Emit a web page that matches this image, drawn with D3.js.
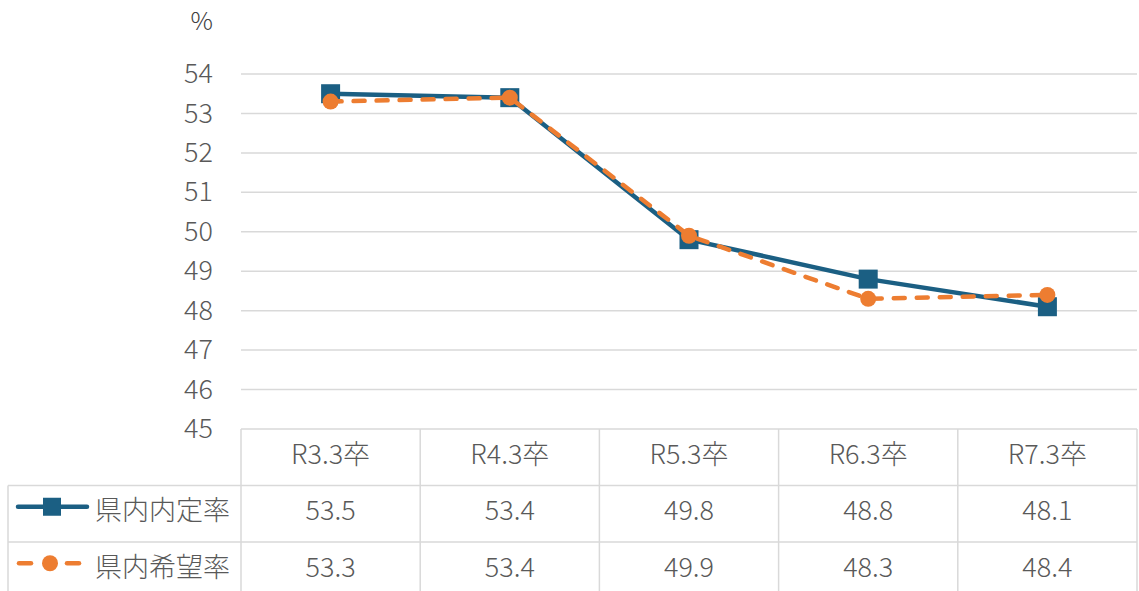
<!DOCTYPE html>
<html>
<head>
<meta charset="utf-8">
<script src="https://cdn.jsdelivr.net/npm/d3@7"></script>
<style>
  html, body { margin: 0; padding: 0; background: #fff; }
  svg { display: block; }
  text { font-family: "Noto Sans CJK JP", "Noto Sans", sans-serif; font-weight: 300; }
</style>
</head>
<body>
<svg id="chart" width="1139" height="591"></svg>
<script>
// Graduates by year (R = Reiwa), settlement and preference rates
const categories = ["R3.3卒", "R4.3卒", "R5.3卒", "R6.3卒", "R7.3卒"];
const settledRate = [53.5, 53.4, 49.8, 48.8, 48.1];   // 県内内定率
const desiredRate = [53.3, 53.4, 49.9, 48.3, 48.4];   // 県内希望率
const seriesNames = ["県内内定率", "県内希望率"];
const yTicks = [45, 46, 47, 48, 49, 50, 51, 52, 53, 54];

const svg = d3.select("#chart");
const W = 1139, H = 591;
const plotLeft = 241, plotRight = 1137, plotTop = 74, plotBottom = 429;
const rowH = 56.5;
const legendLeft = 8;
const fs = 27;
const textShift = -5;   // optical centring of text within table cells

const blue = "#1b5f83", orange = "#ed7d31", grid = "#d9d9d9", textCol = "#595959";

const x = d3.scaleBand().domain(categories).range([plotLeft, plotRight]);
const y = d3.scaleLinear().domain([45, 54]).range([plotBottom, plotTop]);

// Horizontal gridlines
svg.append("g").selectAll("line").data(yTicks.filter(t => t > 45)).join("line")
  .attr("x1", plotLeft).attr("x2", plotRight)
  .attr("y1", d => y(d)).attr("y2", d => y(d))
  .attr("stroke", grid).attr("stroke-width", 1.5);

// Y axis labels
const yAxis = d3.axisLeft(y).tickValues(yTicks).tickSize(0).tickPadding(0);
const gy = svg.append("g").attr("transform", `translate(${213},0)`).call(yAxis);
gy.select(".domain").remove();
gy.selectAll("text").attr("font-size", fs).attr("fill", textCol)
  .attr("font-family", '"Noto Sans CJK JP", sans-serif').attr("font-weight", 300)
  .attr("dy", "0.32em");

// Unit label
svg.append("text").attr("x", 213).attr("y", 30).attr("text-anchor", "end")
  .attr("font-size", 25).attr("fill", "#404040").text("%");

// Data table
const tableG = svg.append("g");
const rows = [
  { y0: plotBottom, y1: plotBottom + rowH },
  { y0: plotBottom + rowH, y1: plotBottom + 2 * rowH },
  { y0: plotBottom + 2 * rowH, y1: plotBottom + 3 * rowH }
];
// top border of the category row (axis line)
tableG.append("line").attr("x1", plotLeft).attr("x2", plotRight)
  .attr("y1", plotBottom).attr("y2", plotBottom).attr("stroke", grid).attr("stroke-width", 1.5);
// row separators spanning legend column
[rows[1].y0, rows[2].y0].forEach(yy => {
  tableG.append("line").attr("x1", legendLeft).attr("x2", plotRight)
    .attr("y1", yy).attr("y2", yy).attr("stroke", grid).attr("stroke-width", 1.5);
});
// vertical lines at category boundaries
const bounds = categories.map(c => x(c)).concat([plotRight]);
tableG.selectAll("line.v").data(bounds).join("line").attr("class", "v")
  .attr("x1", d => d).attr("x2", d => d)
  .attr("y1", plotBottom).attr("y2", H + 2)
  .attr("stroke", grid).attr("stroke-width", 1.5);
tableG.append("line").attr("x1", legendLeft).attr("x2", legendLeft)
  .attr("y1", rows[1].y0).attr("y2", H + 2).attr("stroke", grid).attr("stroke-width", 1.5);

// category labels
tableG.selectAll("text.cat").data(categories).join("text").attr("class", "cat")
  .attr("x", d => x(d) + x.bandwidth() / 2).attr("y", (rows[0].y0 + rows[0].y1) / 2 + textShift)
  .attr("text-anchor", "middle").attr("dominant-baseline", "central")
  .attr("font-size", fs).attr("fill", textCol).text(d => d);

// value cells
[settledRate, desiredRate].forEach((vals, i) => {
  const r = rows[i + 1];
  tableG.selectAll(`text.val${i}`).data(vals).join("text").attr("class", `val${i}`)
    .attr("x", (d, j) => x(categories[j]) + x.bandwidth() / 2).attr("y", (r.y0 + r.y1) / 2 + textShift)
    .attr("text-anchor", "middle").attr("dominant-baseline", "central")
    .attr("font-size", fs).attr("fill", textCol).text(d => d.toFixed(1));
});

// legend keys in the table
const keyY1 = (rows[1].y0 + rows[1].y1) / 2 - 7, keyY2 = (rows[2].y0 + rows[2].y1) / 2 - 7;
tableG.append("line").attr("x1", 18).attr("x2", 87).attr("y1", keyY1).attr("y2", keyY1)
  .attr("stroke", blue).attr("stroke-width", 4.5).attr("stroke-linecap", "round");
tableG.append("rect").attr("x", 43).attr("y", keyY1 - 9).attr("width", 18).attr("height", 18).attr("fill", blue);
[[19, 31], [67, 79]].forEach(([a, b]) => {
  tableG.append("line").attr("x1", a).attr("x2", b).attr("y1", keyY2).attr("y2", keyY2)
    .attr("stroke", orange).attr("stroke-width", 4.5).attr("stroke-linecap", "round");
});
tableG.append("circle").attr("cx", 50).attr("cy", keyY2).attr("r", 8).attr("fill", orange);
tableG.append("text").attr("x", 95).attr("y", keyY1 + 2).attr("dominant-baseline", "central")
  .attr("font-size", fs).attr("fill", textCol).text(seriesNames[0]);
tableG.append("text").attr("x", 95).attr("y", keyY2 + 2).attr("dominant-baseline", "central")
  .attr("font-size", fs).attr("fill", textCol).text(seriesNames[1]);

// Lines
const cx = (d, i) => x(categories[i]) + x.bandwidth() / 2;
const line = d3.line().x(cx).y(d => y(d));

svg.append("path").datum(settledRate).attr("d", line)
  .attr("fill", "none").attr("stroke", blue).attr("stroke-width", 4.5).attr("stroke-linejoin", "round");
svg.append("g").selectAll("rect").data(settledRate).join("rect")
  .attr("x", (d, i) => cx(d, i) - 9.5).attr("y", d => y(d) - 9.5)
  .attr("width", 19).attr("height", 19).attr("fill", blue);

svg.append("path").datum(desiredRate).attr("d", line)
  .attr("fill", "none").attr("stroke", orange).attr("stroke-width", 4.5)
  .attr("stroke-linecap", "round").attr("stroke-dasharray", "11,12");
svg.append("g").selectAll("circle").data(desiredRate).join("circle")
  .attr("cx", cx).attr("cy", d => y(d)).attr("r", 8).attr("fill", orange);
</script>
</body>
</html>
